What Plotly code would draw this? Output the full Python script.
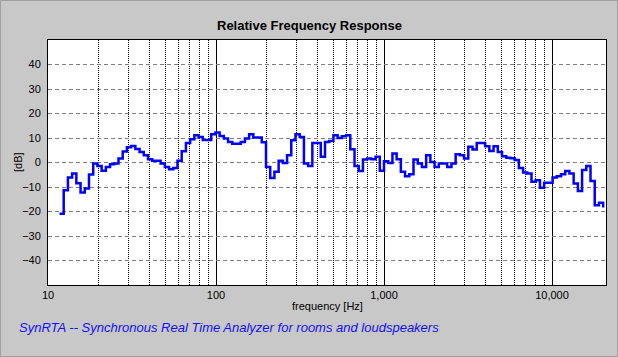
import numpy as np
import plotly.graph_objects as go

# 1/12-octave analyzer bands (lower band edges), relative to 1 kHz
band_index = np.arange(130)
band_start_hz = 1000 * 2 ** ((band_index - 77) / 12)

# Relative level per band [dB]
level_db = [
    -20.9, -11.3, -6.1, -4.5, -8.5, -12.2, -10.6, -4.9, -0.4, -1.4,
    -3.4, -1.8, -0.7, -0.4, 1.6, 4.5, 6.2, 6.7, 5.5, 4.3,
    3.0, 1.3, 0.7, 0.7, -0.4, -1.8, -2.8, -2.2, 0.7, 4.6,
    8.0, 9.5, 11.1, 10.4, 9.2, 9.2, 11.5, 12.2, 10.8, 9.8,
    8.4, 7.7, 7.7, 8.4, 9.8, 11.5, 10.2, 10.2, 8.3, -1.8,
    -6.3, -3.8, 0.7, -0.2, 3.0, 9.1, 11.5, 10.4, -0.4, -1.4,
    8.0, 8.0, 2.3, 8.4, 8.8, 11.1, 10.0, 10.7, 11.1, 5.4,
    -1.4, -3.5, 1.2, 1.6, 1.3, 2.3, -3.4, 0.5, -0.2, 3.7,
    1.3, -3.8, -5.6, -4.8, 1.2, -0.4, -1.8, 3.0, 0.2, -1.8,
    -0.4, -0.4, -1.8, -0.4, 3.4, 3.0, 1.6, 6.4, 5.3, 8.0,
    8.0, 6.6, 4.7, 6.6, 4.3, 2.6, 1.9, 1.7, 1.0, -2.2,
    -4.1, -4.5, -7.9, -7.2, -10.3, -8.3, -8.3, -6.1, -5.6, -4.8,
    -3.5, -4.5, -8.6, -11.6, -3.1, -1.4, -7.5, -17.4, -16.4, -18.4,
]

x_tick_vals = [10, 100, 1000, 10000]
x_tick_text = ["10", "100", "1,000", "10,000"]
minor_grid_hz = [20, 30, 40, 50, 60, 70, 80, 90,
                 200, 300, 400, 500, 600, 700, 800, 900,
                 2000, 3000, 4000, 5000, 6000, 7000, 8000, 9000]
y_tick_vals = [-40, -30, -20, -10, 0, 10, 20, 30, 40]

W, H = 618, 357
ML, MR, MT, MB = 48, 12, 40, 72
PW, PH = W - ML - MR, H - MT - MB

def px(x):
    return (x - ML) / PW

def py(y):
    return (H - MB - y) / PH

FONT = "Liberation Sans, Arial, sans-serif"

fig = go.Figure()
fig.add_trace(go.Scatter(
    x=band_start_hz, y=level_db, mode="lines", line_shape="hv",
    line=dict(color="#0000ff", width=2.5), showlegend=False, hoverinfo="skip",
))

fig.update_layout(
    width=W, height=H,
    margin=dict(l=ML, r=MR, t=MT, b=MB, pad=0, autoexpand=False),
    paper_bgcolor="#c8c8c8", plot_bgcolor="white",
    font=dict(family=FONT, size=11, color="black"),
    showlegend=False,
    xaxis=dict(
        type="log", range=[1, 1 + PW / 168.0], automargin=False,
        tickmode="array", tickvals=x_tick_vals, ticktext=x_tick_text,
        showgrid=True, gridcolor="black", gridwidth=1,
        minor=dict(tickmode="array", tickvals=minor_grid_hz, showgrid=True,
                   gridcolor="black", griddash="1px,1px", gridwidth=1, ticks=""),
        showline=True, mirror=True, linecolor="black", linewidth=1,
        zeroline=False, ticks="", tickfont=dict(size=11),
    ),
    yaxis=dict(
        range=[-50, 50], tickmode="array", tickvals=y_tick_vals, automargin=False,
        showgrid=True, gridcolor="#808080", griddash="4px,3px", gridwidth=1,
        showline=True, mirror=True, linecolor="black", linewidth=1,
        zeroline=False, ticks="", tickfont=dict(size=11), ticklabelstandoff=4,
    ),
    shapes=[dict(type="rect", xref="paper", yref="paper",
                 x0=px(0.5), x1=px(W - 0.5), y0=py(H - 0.5), y1=py(0.5),
                 line=dict(color="#a0a0a0", width=1), layer="below")],
    annotations=[
        dict(text="<b>Relative Frequency Response</b>", xref="paper", yref="paper",
             x=px(309), y=py(26), xanchor="center", yanchor="middle",
             showarrow=False, font=dict(size=13, color="black")),
        dict(text="frequency [Hz]", xref="paper", yref="paper",
             x=px(327), y=py(306), xanchor="center", yanchor="middle",
             showarrow=False, font=dict(size=11, color="black")),
        dict(text="[dB]", xref="paper", yref="paper", textangle=-90,
             x=px(18), y=py(162), xanchor="center", yanchor="middle",
             showarrow=False, font=dict(size=11, color="black")),
        dict(text="<i>SynRTA -- Synchronous Real Time Analyzer for rooms and loudspeakers</i>",
             xref="paper", yref="paper", x=px(17), y=py(327),
             xanchor="left", yanchor="middle", showarrow=False,
             font=dict(size=13, color="#1010ff")),
    ],
)

fig.write_html("out.html", config={"displayModeBar": False},
               post_script="document.body.style.margin='0';document.body.style.overflow='hidden';")
